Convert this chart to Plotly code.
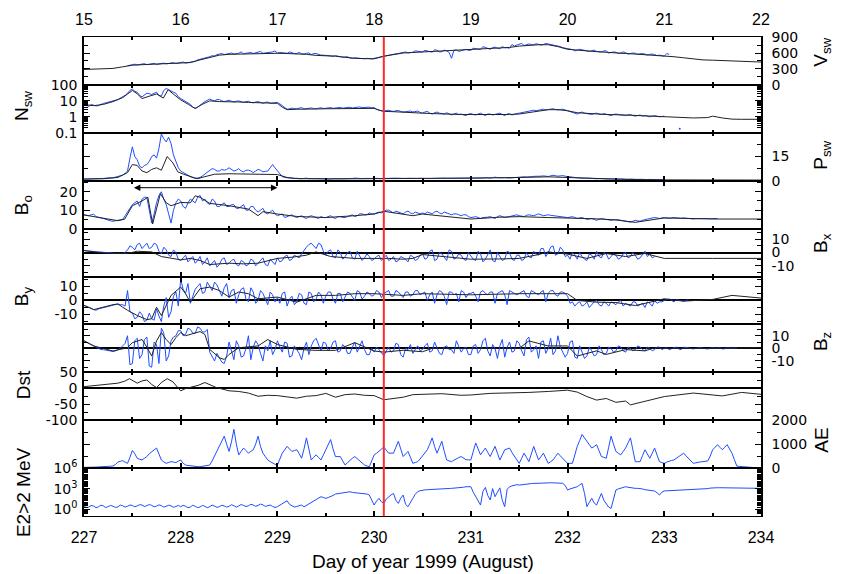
import plotly.graph_objects as go

# ---------------- data ----------------
top_ticks = [15, 16, 17, 18, 19, 20, 21, 22]            # day of August
bottom_ticks = [227, 228, 229, 230, 231, 232, 233, 234]  # day of year
red_day = 230.1
arrow_days = [227.5, 229.0]
OBS_START, OBS_STEP = 227.0, 0.05     # observed (blue) samples; "_mid" samples sit half a step later
MOD_START, MOD_STEP = 227.0, 0.1      # V model grid

# Solar wind speed
v_model = [290, 295, 300, 310, 340, 370, 380, 390, 395, 405,
           410, 420, 470, 520, 560, 575, 580, 585, 590, 590,
           595, 590, 585, 575, 555, 550, 540, 520, 500, 495,
           490, 540, 570, 600, 610, 620, 630, 635, 640, 650,
           660, 670, 680, 690, 705, 730, 745, 755, 755, 720,
           670, 650, 640, 625, 610, 600, 590, 580, 570, 560,
           550, 530, 510, 490, 470, 465, 460, 455, 450, 440,
           430]
v_obs = [None, None, None, None, None, None, None, None, None, 360,
         380, 375, 390, 380, 395, 385, 400, 395, 410, 400,
         420, 410, 430, 445, 480, 500, 530, 545, 580, 570,
         590, 580, 595, 585, 600, 590, 610, 595, 600, 620,
         600, 605, 595, 600, 590, 585, 595, 570, 590, 560,
         555, 545, 550, 530, 520, 505, 510, 500, 490, 495,
         500, 520, 545, 560, 575, 590, 610, 600, 615, 630,
         620, 640, 615, 650, 625, 640, 500, 660, 640, 670,
         650, 680, 665, 700, 670, 710, 680, 700, 690, 730,
         760, 740, 770, 755, 765, 760, 770, 750, 740, 700,
         680, 665, 650, 660, 640, 650, 630, 620, 640, 610,
         615, 600, 610, 590, 595, 585, 580, 575, 570, 560,
         540, 575]
v_mid = [None, None, None, None, None, None, None, None, None, 370,
         390, 380, 400, 385, 405, 390, 410, 400, 420, 410,
         430, 420, 440, 470, 490, 520, 550, 570, 590, 585,
         600, 590, 620, 595, 610, 600, 630, 600, 615, 640,
         610, 600, 620, 590, 610, 580, 600, 590, 575, 560,
         560, 540, 545, 520, 530, 500, 505, 495, 500, 490,
         510, 530, 555, 570, 585, 600, 620, 610, 640, 620,
         650, 630, 660, 620, 655, 610, 650, 630, 660, 650,
         690, 670, 720, 680, 700, 690, 720, 700, 760, 750,
         780, 755, 760, 775, 750, 780, 760, 740, 720, 690,
         670, 640, 670, 645, 630, 655, 620, 640, 600, 620,
         590, 620, 580, 600, 575, 590, 560, 580, 550, 545,
         590]

# Density
n_model_t = [227.0, 227.1, 227.2, 227.3, 227.4, 227.5, 227.55, 227.6, 227.68, 227.75,
             227.82, 227.87, 227.93, 228.0, 228.08, 228.15, 228.22, 228.3, 228.4, 228.5,
             228.6, 228.7, 228.8, 228.9, 229.0, 229.05, 229.1, 229.2, 229.3, 229.4,
             229.5, 229.6, 229.7, 229.8, 229.9, 230.0, 230.05, 230.1, 230.2, 230.3,
             230.4, 230.5, 230.6, 230.7, 230.8, 230.9, 231.0, 231.2, 231.4, 231.5,
             231.6, 231.7, 231.8, 231.9, 232.0, 232.1, 232.2, 232.4, 232.6, 232.8,
             233.0, 233.2, 233.3, 233.45, 233.5, 233.6, 233.7, 233.8, 234.0]
n_model = [5.8, 5.0, 6.0, 9, 16, 45, 28, 14, 20, 27,
           15, 50, 25, 11.5, 6, 3.3, 6, 10, 9, 9,
           8.5, 8, 7.5, 7, 7, 4, 2.8, 3, 3.2, 3.1,
           3.2, 3.3, 3.4, 3.5, 3.6, 3.4, 2.6, 2.2, 2.1, 1.9,
           1.9, 1.7, 1.6, 1.5, 1.45, 1.4, 1.4, 1.35, 1.4, 1.5,
           1.8, 2.4, 2.8, 2.8, 2.4, 1.8, 1.6, 1.4, 1.3, 1.15,
           1.1, 0.95, 0.85, 0.9, 1.1, 0.85, 0.72, 0.7, 0.7]
n_obs = [6, 4.5, 5.5, 5, 7, 8, 10, 12, 18, 30,
         55, 35, 18, 30, 25, 35, 20, 60, 40, 30,
         14, 9, 6, 3.5, 5, 9, 13, 10, 12, 9,
         11, 8.5, 10, 8, 9.5, 7.5, 9, 7, 8.5, 7.5,
         8, 5, 3, 3.5, 3.2, 3.8, 3.3, 3.6, 3.2, 3.7,
         3.4, 3.8, 3.5, 3.9, 3.6, 4, 3.7, 4.2, 3.9, 4,
         3.8, 2.6, 2.3, 2.6, 2.2, 2.5, 2.0, 2.2, 2.0, 2.3,
         1.7, 2.2, 1.5, 2.0, 1.6, 1.8, 1.3, 1.7, 1.5, 1.2,
         1.6, 1.3, 1.7, 1.2, 1.5, 1.4, 1.7, 1.2, 1.6, 1.5,
         1.7, 1.9, 2.2, 2.6, 2.5, 3.0, 2.9, 3.2, 2.7, 3.0,
         2.4, 2.0, 1.5, 2.0, 1.6, 1.4, 1.7, 1.4, 1.5, 1.2,
         1.5, 1.3, 1.2, 1.4, 1.1, 1.3, 1.2, 1.0, 1.2, 1.0,
         1.1]
n_mid = [5, 6, 4.8, 6, 7.5, 9, 11, 15, 22, 45,
         40, 22, 25, 28, 30, 22, 45, 50, 35, 18,
         11, 7, 4, 4, 7, 11, 11, 12, 10, 10,
         9.5, 9.5, 9, 9, 8, 8.5, 8, 8, 7, 7.5,
         6.5, 3.5, 3.2, 3.3, 3.5, 3.1, 3.4, 3.3, 3.5, 3.3,
         3.6, 3.4, 3.7, 3.5, 3.8, 3.6, 4, 3.8, 4.1, 3.7,
         3, 2.4, 2.5, 2.3, 2.4, 2.2, 2.1, 2.3, 2.1, 1.9,
         2.0, 1.7, 1.8, 1.7, 1.5, 1.6, 1.5, 1.4, 1.3, 1.5,
         1.4, 1.5, 1.4, 1.5, 1.3, 1.6, 1.4, 1.5, 1.3, 1.6,
         1.8, 2.0, 2.4, 2.4, 2.8, 2.7, 3.1, 2.9, 2.9, 2.7,
         2.2, 1.7, 1.8, 1.7, 1.5, 1.6, 1.5, 1.6, 1.3, 1.4,
         1.4, 1.2, 1.3, 1.2, 1.2, 1.1, 1.1, 1.1, 1.1, 1.05]
n_outlier_t = [233.16]
n_outlier = [0.18]

# Dynamic pressure
p_model_t = [227.0, 227.2, 227.35, 227.45, 227.5, 227.55, 227.6, 227.65, 227.7, 227.75,
             227.8, 227.86, 227.92, 227.97, 228.03, 228.1, 228.17, 228.25, 228.35, 228.5,
             228.7, 228.9, 229.0, 229.1, 229.2, 229.5, 230.0, 230.5, 231.0, 231.5,
             231.8, 232.0, 232.3, 232.6, 233.0, 233.5, 234.0]
p_model = [1.0, 1.2, 2.0, 5, 10, 9.5, 6, 5, 7, 8,
           6.5, 15, 11, 5.5, 4, 2.5, 1.2, 2.5, 4, 4.3,
           4.2, 4, 3.8, 2, 1.3, 1.1, 1.2, 1.4, 1.6, 2.0,
           2.4, 2.0, 1.2, 0.8, 0.5, 0.4, 0.4]
p_obs = [1.0, 1.3, 1.1, 1.5, 1.4, 2.0, 1.8, 2.5, 3.5, 6,
         21, 13, 8, 10, 15, 14, 29, 24, 23, 12,
         6, 4, 2.5, 1.5, 2, 4, 6.5, 7, 6, 6.5,
         8, 6, 7.5, 5.5, 6.5, 5, 7, 5.5, 6, 10,
         6, 2.5, 1.8, 1.3, 1.5, 1.2, 1.6, 1.1, 1.4, 1.2,
         1.3, 1.1, 1.5, 1.2, 1.3, 1.1, 1.6, 1.2, 1.4, 1.3,
         1.5, 1.2, 1.4, 1.3, 1.6, 1.4, 1.2, 1.5, 1.3, 1.4,
         1.6, 1.3, 1.5, 1.4, 1.8, 1.5, 1.6, 1.4, 1.7, 1.5,
         1.6, 1.8, 1.5, 1.9, 1.6, 2.2, 1.7, 1.9, 1.6, 2.0,
         2.0, 2.4, 2.2, 2.7, 2.5, 3.0, 2.6, 3.4, 2.8, 3.2,
         2.5, 2.2, 1.8, 1.5, 1.6, 1.3, 1.2, 1.4, 1.1, 1.0,
         0.9, 1.1, 0.8, 1.0, 0.7, 0.9, 0.6, 0.8, 0.6, 0.7,
         0.6]
p_mid = [1.1, 1.2, 1.3, 1.4, 1.7, 1.9, 2.2, 3, 4.5, 14,
         15, 9, 9.5, 12, 16, 20, 26, 27, 16, 8,
         5, 3, 2, 1.7, 3, 5, 7.5, 6, 7, 7,
         7, 6.5, 6, 6.5, 6, 6, 6.5, 5.8, 8, 8,
         4, 2, 1.5, 1.4, 1.3, 1.4, 1.3, 1.3, 1.3, 1.3,
         1.2, 1.3, 1.3, 1.2, 1.2, 1.4, 1.4, 1.3, 1.3, 1.4,
         1.3, 1.3, 1.3, 1.5, 1.5, 1.3, 1.4, 1.4, 1.3, 1.5,
         1.4, 1.4, 1.5, 1.6, 1.6, 1.5, 1.5, 1.6, 1.6, 1.5,
         1.7, 1.6, 1.7, 1.7, 1.9, 1.9, 1.8, 1.7, 1.8, 2.0,
         2.2, 2.3, 2.5, 2.6, 2.8, 2.8, 3.0, 3.1, 3.0, 2.8,
         2.4, 2.0, 1.6, 1.5, 1.4, 1.2, 1.3, 1.2, 1.0, 0.95,
         1.0, 0.9, 0.9, 0.8, 0.8, 0.7, 0.7, 0.7, 0.6, 0.6]

# |B|
b0_model_t = [227.0, 227.2, 227.35, 227.42, 227.5, 227.6, 227.66, 227.71, 227.79, 227.85,
              227.9, 228.0, 228.1, 228.15, 228.2, 228.3, 228.5, 228.7, 228.8, 228.85,
              229.0, 229.2, 229.5, 229.8, 230.0, 230.1, 230.4, 230.5, 230.8, 231.0,
              231.3, 231.5, 231.8, 232.0, 232.3, 232.5, 232.7, 233.0, 233.3, 233.5,
              234.0]
b0_model = [7.4, 5.8, 4.3, 5.1, 12.4, 15, 17, 2.5, 19, 14,
            12.4, 14.2, 14, 17.8, 17, 13.7, 12.4, 10.6, 7, 9.2,
            7.9, 6.6, 6, 7, 7.9, 9.4, 7, 7.9, 6.5, 5.2,
            6.2, 6.5, 6, 5.8, 5.3, 4.7, 3.4, 5.8, 5.5, 5.2,
            5.2]
b0_obs = [7.5, 7, 7.8, 6, 5.5, 4.5, 4, 4.2, 5, 9,
          13, 15, 16, 17, 3, 14, 20, 13, 3, 14,
          15, 11, 16, 14, 18, 16, 13, 15, 12, 14,
          12, 13, 11, 13, 10, 12, 9, 11, 8, 10,
          7, 8, 6.5, 7.5, 6, 7, 5.5, 7, 6, 6.5,
          6, 7, 5.5, 6.5, 6, 7, 6.5, 8, 7.5, 8.5,
          8, 9, 9.5, 10, 8.5, 9, 8, 9.5, 8, 8.5,
          8.5, 9, 8, 9.5, 8, 8.5, 7.5, 8, 7, 7.5,
          6, 6.5, 5.5, 6, 6.5, 5.5, 7, 6, 6.5, 7,
          7, 6.5, 7.5, 7, 8, 7, 7.5, 7, 6.5, 6,
          6, 6.5, 5.5, 6, 5, 5.5, 4.5, 5.5, 5, 4.5,
          5, 4.5, 4, 3.5, 4.5, 4, 5, 5.5, 6, 5.5,
          6, 5.5, 6, 5.5, 5.8, 5.5, 5.2, 5.5, 5.3, 5.5,
          5.3, 5.5]
b0_mid = [7.2, 7.5, 6.5, 5.8, 5, 4.2, 4.3, 4.6, 7, 11,
          14, 12, 17, 10, 8, 18, 16, 8, 10, 16,
          12, 14, 15, 17, 15, 14, 16, 12, 13, 12,
          13, 11, 12, 10, 12, 10, 10, 8.5, 9, 8,
          7.5, 6, 7, 6.5, 6.5, 6, 6.5, 6.5, 5.5, 6,
          6.5, 6, 6.5, 6, 6.5, 7.5, 7, 8, 7.5, 8,
          8.5, 8.5, 10, 9, 9.5, 8.5, 9, 8.5, 9, 8,
          8, 8.5, 9, 8.5, 9, 8, 8, 7.5, 7.5, 6.5,
          6.2, 6, 6, 6.2, 6, 6.5, 6.5, 6.2, 7, 7.5,
          6.8, 7.2, 7.2, 7.5, 7.5, 7.2, 7.2, 6.8, 6.2, 6.2,
          6.2, 6, 5.8, 5.5, 5.2, 5, 5, 5.2, 4.8, 4.8,
          4.8, 4.2, 3.8, 4, 4.2, 4.5, 5.2, 5.8, 5.8, 5.8,
          5.8, 5.8, 5.8, 5.6, 5.6, 5.4, 5.4, 5.4, 5.4, 5.4,
          5.4]

# Bx
bx_model_t = [227.0, 227.15, 227.3, 227.45, 227.55, 227.7, 227.8, 228.0, 228.1, 228.2,
              228.3, 228.5, 228.65, 228.8, 229.0, 229.15, 229.3, 229.4, 229.55, 229.7,
              229.8, 230.0, 230.15, 230.3, 230.4, 230.5, 230.7, 231.0, 231.3, 231.5,
              231.7, 231.8, 232.0, 232.2, 232.4, 232.6, 232.8, 233.0, 233.5, 234.0]
bx_model = [1.5, 0, -0.7, -0.7, 1.0, 0.5, -3, -5.5, -4.4, -6,
            -9, -8, -8.5, -8, -4.4, -3.5, -2, 0.5, -3, -3.5,
            -4.4, -4.4, -4.4, -5, -4.4, -1.5, -3, -5, -4.8, -4.4,
            -1.5, 0.5, -1.2, -4.4, -0.7, -3, -0.7, -4.4, -4.4, -4.4]
bx_obs = [1.5, 1.2, 0.8, 0.5, 0, -0.5, -0.7, -0.5, -0.8, 2,
          4, 6, 3, 7, 4, 6, -1, 2, -3, 0,
          -6, -2, -5, -8, -3, -7, -10, -6, -9, -4,
          -8, -5, -10, -7, -9, -6, -8, -4, -10, -7,
          -4, -6, -2, -5, -3, -1, 4, 7, 3, 6,
          -2, 2, -4, 0, -3, 1, -5, -2, -4, -3,
          -5, -2, -4, -6, -3, -6, -4, -7, -3, -5,
          -1, -4, 2, -5, -1, -6, 1, -4, -2, -6,
          -3, -6, -1, -5, 2, -7, -3, -5, 0, -6,
          -2, -5, -3, 1, -2, 3, 0, 5, -1, 2,
          -2, 0, -5, -3, -6, -2, 1, -4, -1, -3,
          -2, -4, 0, -3, -2, -4, 1, -1, -3]
bx_mid = [1.3, 1.0, 0.6, 0.2, -0.3, -0.6, -0.6, -0.7, 0, 5,
          2, 7, 5, 3, 7, 1, 4, -2, 2, -5,
          -4, -7, -3, -6, -9, -4, -8, -11, -5, -9,
          -6, -9, -6, -10, -5, -10, -6, -9, -5, -9,
          -7, -3, -6, -2, -4, 2, 6, 5, 7, 1,
          1, -3, 2, -5, 0, -4, 1, -6, -1, -6,
          -3, -6, -2, -5, -7, -3, -5, -2, -6, -2,
          -5, 1, -6, 0, -4, 2, -5, -1, -5, 0,
          -5, 1, -7, -2, -6, 0, -6, 1, -5, -2,
          -6, 0, -4, -1, 3, -3, 4, -2, 4, -3,
          -5, -2, 0, -5, -1, -5, -3, 0, -5, -1,
          -5, -1, -4, 0, -5, -1, -3, -4]

# By
by_model_t = [227.0, 227.1, 227.3, 227.35, 227.45, 227.55, 227.65, 227.7, 227.75, 227.8,
              227.9, 228.0, 228.05, 228.1, 228.2, 228.3, 228.4, 228.5, 228.6, 228.7,
              228.8, 229.0, 229.2, 229.4, 229.6, 229.8, 230.0, 230.3, 230.5, 231.0,
              231.5, 232.0, 232.1, 232.3, 232.5, 232.7, 232.9, 233.0, 233.2, 233.5,
              233.7, 234.0]
by_model = [-3.5, -6.5, -3, -2.5, -7, -10.7, -13.6, -13, -4.8, -10.7,
            3.6, 9.5, 4.8, -1.2, 8.3, 9.5, 7, 2.4, 6, 4.8,
            1.2, 2.4, -1.2, 3.6, 3.6, 4.8, 4.8, 3.6, 4.8, 4,
            4.8, 4.8, 0, -1.2, -1.5, -3.6, -0.5, 1.2, -0.5, 0.7,
            3.6, 1.7]
by_obs = [-3.5, -4.5, -6.5, -6, -5, -4, -3, -2.5, -3, 7,
          -9, -12, -10, -14, -13, -6, -15, 2, -8, 6,
          15, 5, -2, 8, 12, 6, 10, 13, 7, 9,
          2, 8, 4, 9, -1, 6, 0, 5, -3, 4,
          2, 5, -4, 3, -1, 4, -3, 5, 1, 4,
          3, 6, -2, 5, 2, 5, 0, 6, 3, 5,
          4, 6, 5, 7, 3, 6, 2, 6, 4, 7,
          5, 0, 6, 4, 6, -3, 6, 5, 7, 2,
          5, 3, 6, 5, 6, -2, 6, 4, 7, 5,
          5, 7, 2, 6, 4, 7, 5, 7, 3, 6,
          3, -1, -2, -4, -1, -3, 0, -4, -2, -1,
          -3, 0, -2, -4, -1, -3, -5, -2, 0, -1,
          0, 1, -1, 0, -0.5, 0.5]
by_mid = [-4, -5.5, -7, -5.5, -4.5, -3.5, -2.5, -3, -4, -8,
          -13, -8, -15, -9, -14, -11, -4, -12, 3, -4,
          8, 12, 3, 10, 5, 13, 7, 11, 3, 12,
          7, -2, 8, 1, 9, -2, 7, 1, 6, -1,
          -2, 6, 1, -3, 5, -2, 6, -1, 6, -2,
          6, 1, 5, -1, 6, 2, 7, 1, 6, 3,
          7, 2, 6, 3, 7, 4, 6, 3, 7, 4,
          6, 4, -2, 7, 3, 6, 4, -1, 6, 5,
          6, -1, 7, 4, 6, 5, 7, -3, 6, 4,
          6, 3, 7, 5, 6, -1, 7, 4, 6, 5,
          -2, -4, -1, -3, -5, -1, -3, -1, -4, -2,
          -1, -4, -3, -1, -4, -2, -1, -4, -2, -1,
          0.5, 0, 0.5, -0.5, 0]

# Bz
bz_model_t = [227.0, 227.1, 227.3, 227.45, 227.5, 227.6, 227.65, 227.7, 227.75, 227.8,
              227.85, 227.9, 227.95, 228.0, 228.05, 228.2, 228.25, 228.3, 228.4, 228.45,
              228.5, 228.6, 228.8, 228.9, 229.0, 229.2, 229.4, 229.6, 229.8, 230.0,
              230.1, 230.3, 230.5, 230.6, 231.0, 231.5, 231.6, 231.8, 232.0, 232.1,
              232.3, 232.4, 232.6, 232.8, 232.9, 233.0, 233.5, 234.0]
bz_model = [5.9, 1.9, -2.1, 0.5, 4.5, 7, 1, -6.1, 5.9, 12.5,
            7, 3, 8.5, 12.5, 10, 13.3, 11, -0.8, -7.5, -8.8,
            -4.8, 0.5, 1.9, 7, 3, -0.8, -1.6, -1.6, 4.5, -2.1,
            -3, -1.5, -2.7, 0, 0, 0, 5.9, 1.9, 1.9, -6.1,
            -2, -4.8, -1, -2, 0.5, 0, 0, 0.5]
bz_obs = [6, 4, 2, 0, -1, -2, -2.5, -1, 2, 10,
          -12, 8, -5, 9, -15, 3, 16, -10, 6, 10,
          14, 11, 15, 12, 16, 13, -3, -10, -7, -12,
          5, -9, 2, -6, 10, 1, 3, -10, -2, -5,
          6, -3, 4, -6, -1, -9, 5, 2, 8, -2,
          4, 0, 6, -2, 1, -4, 5, 2, -1, -5,
          -3, -1, -6, 1, -2, 3, -7, -1, -4, 2,
          -1, 4, -2, 0, -5, 2, -1, 6, -3, 1,
          -5, 3, -1, 8, -6, 0, 2, -7, 5, -2,
          4, -6, 9, -1, -8, 6, 0, -5, 10, -3,
          -4, 6, -8, -3, -6, -2, -5, -1, -4, 0,
          -2, 1, -3, 0, -1, 1, -2, 0, -1, 1,
          0, -1, 0.5, -0.5, 1, 0, -0.5, 0.5, 0, -0.5,
          0.5, 0, -0.5, 0.5, 0, 0.3]
bz_mid = [5, 3, 1, -1, -1.5, -2.5, -2, 0, 4, -13,
          6, -8, 7, -14, 5, -12, 12, -6, 9, 14,
          10, 16, 12, 17, 13, 15, -6, -4, -11, -6,
          -3, 6, -7, 0, -9, 6, -4, 2, 6, -1,
          1, 5, -7, 2, -4, 0, -5, 6, 3, 5,
          -2, 5, -3, 3, -4, 1, -3, 6, -5, 0,
          1, -4, -2, -3, 4, -5, 0, 3, -1, -2,
          2, -3, 5, -4, 1, -1, -4, 2, 0, -5,
          2, -4, 6, -2, 3, -8, 7, 1, -3, 6,
          -2, 7, -3, 2, 5, -4, 8, -2, 1, -7,
          5, -7, 2, -8, 1, -6, 2, -5, 1, -3,
          2, -2, 1, -2, 2, -1, 1, -2, 1, -1,
          0.5, -0.5, 1, -1, 0.5, -0.5, 0, 0.5, -0.5, 0,
          0, 0.5, -0.3, 0.2, 0.3]

# Dst
dst_t = [227.0, 227.2, 227.35, 227.42, 227.47, 227.55, 227.6, 227.65, 227.7, 227.75,
         227.8, 227.86, 227.92, 227.97, 228.0, 228.05, 228.1, 228.18, 228.25, 228.3,
         228.37, 228.5, 228.6, 228.7, 228.8, 228.9, 229.0, 229.1, 229.2, 229.3,
         229.4, 229.5, 229.6, 229.7, 229.8, 229.9, 230.0, 230.1, 230.2, 230.3,
         230.4, 230.5, 230.7, 230.9, 231.0, 231.2, 231.4, 231.6, 231.8, 232.0,
         232.1, 232.2, 232.3, 232.4, 232.5, 232.6, 232.65, 232.8, 233.0, 233.3,
         233.5, 233.6, 233.8, 234.0]
dst = [5, 12, 16, 22, 30, 16, 23, 26, 12, 2,
       18, 30, 20, 2, -8, -1, 3, 9, 18, 12,
       2, -8, -10, -15, -25, -22, -23, -27, -31, -25,
       -23, -16, -28, -20, -18, -22, -23, -36, -31, -28,
       -20, -19, -17, -22, -21, -16, -15, -13, -10, -6,
       -12, -26, -37, -32, -44, -40, -52, -40, -26, -15,
       -20, -24, -13, -19]

# AE
ae_obs = [28, 25, 35, 50, 45, 70, 85, 250, 312, 200,
          737, 411, 340, 482, 695, 837, 340, 200, 270, 230,
          340, 128, 90, 70, 57, 100, 128, 500, 907, 1333,
          695, 1617, 553, 837, 624, 766, 1333, 624, 340, 200,
          128, 624, 907, 695, 766, 411, 1262, 340, 553, 340,
          766, 1191, 482, 482, 128, 340, 482, 300, 128, 57,
          553, 695, 879, 624, 624, 1120, 482, 695, 200, 269,
          500, 766, 1262, 624, 1120, 340, 269, 400, 482, 350,
          340, 1049, 553, 837, 482, 907, 340, 766, 837, 482,
          199, 624, 269, 907, 340, 624, 199, 340, 624, 400,
          199, 199, 907, 1404, 1120, 837, 978, 482, 411, 1333,
          695, 553, 837, 1262, 269, 269, 766, 411, 837, 269,
          199, 300, 340, 500, 624, 400, 199, 250, 269, 300,
          766, 978, 766, 978, 624, 85, 57, 40, 28, 20,
          14]
ae_mid = [26, 30, 42, 48, 58, 78, 150, 280, 250, 450,
          600, 370, 410, 600, 760, 600, 260, 235, 250, 290,
          200, 110, 80, 62, 80, 115, 300, 700, 1100, 1000,
          1100, 1000, 700, 730, 700, 1000, 900, 480, 270, 160,
          400, 760, 800, 730, 600, 800, 800, 450, 450, 550,
          950, 800, 482, 300, 230, 410, 390, 200, 90, 300,
          620, 800, 750, 624, 870, 800, 590, 450, 235, 380,
          630, 1000, 900, 870, 700, 300, 330, 440, 420, 345,
          700, 800, 700, 650, 700, 620, 550, 800, 650, 340,
          410, 450, 590, 620, 480, 410, 270, 480, 510, 300,
          199, 550, 1150, 1260, 980, 900, 730, 450, 870, 1000,
          620, 700, 1050, 765, 269, 520, 590, 620, 550, 230,
          250, 320, 420, 560, 510, 300, 220, 260, 280, 500,
          870, 870, 870, 800, 350, 70, 48, 34, 24, 17]

# >2 MeV electron flux
e2_obs = [2.5, 2.0, 2.8, 2.2, 3.0, 2.4, 2.6, 2.1, 3.2, 2.7,
          3.5, 3.0, 4.0, 3.2, 3.6, 2.8, 3.3, 2.6, 3.0, 2.4,
          2.2, 2.7, 2.0, 2.5, 2.1, 2.6, 2.3, 2.8, 2.4, 3.0,
          2.6, 3.2, 2.9, 3.5, 3.1, 4.0, 3.5, 4.2, 3.2, 2.5,
          2.3, 7, 17, 3, 2.5, 4, 3.5, 10, 22, 66,
          38, 66, 162, 200, 250, 350, 250, 220, 200, 115,
          4, 38, 7, 66, 200, 7, 115, 2.3, 38, 350,
          630, 700, 800, 900, 1000, 1100, 1100, 1200, 1400, 1900,
          1900, 66, 4, 1500, 22, 66, 1300, 2.3, 1800, 3300,
          3300, 4500, 5800, 5800, 6500, 7200, 7200, 7000, 6800, 6000,
          630, 1100, 1900, 5800, 2.3, 38, 4, 200, 7, 1.3,
          630, 1100, 1900, 1350, 1100, 1100, 700, 630, 450, 115,
          450, 500, 550, 550, 600, 630, 700, 800, 900, 1000,
          1350, 1350, 1350, 1300, 1300, 1250, 1250, 1200, 1200, 1100,
          1100]
e2_mid = [1.8, 3.5, 1.6, 3.8, 1.7, 3.5, 1.8, 3.9, 2.0, 4.0,
          2.2, 4.5, 2.4, 4.8, 2.2, 4.2, 2.0, 3.8, 1.9, 3.6,
          3.6, 1.6, 3.8, 1.7, 3.5, 1.6, 3.9, 1.8, 3.7, 2.0,
          4.5, 2.0, 4.8, 2.4, 5.2, 2.6, 5.5, 2.5, 4.0, 1.8,
          4, 12, 5, 2, 3, 2.2, 6, 15, 40, 50,
          50, 100, 180, 230, 300, 280, 240, 210, 160, 20,
          15, 12, 30, 120, 20, 40, 5, 12, 150, 500,
          650, 750, 850, 950, 1050, 1050, 1150, 1300, 1600, 1900,
          300, 15, 400, 100, 1000, 300, 20, 800, 2500, 3800,
          3800, 5200, 5500, 6200, 6800, 7300, 7100, 6900, 6400, 3000,
          900, 1500, 3500, 200, 10, 8, 30, 20, 2, 50,
          900, 1500, 1600, 1200, 1100, 900, 650, 550, 250, 300,
          480, 520, 550, 580, 610, 650, 750, 850, 950, 1200,
          1350, 1350, 1320, 1300, 1280, 1250, 1220, 1200, 1150, 1100]


def grid(arr, start, step):
    return [round(start + step * k, 3) for k in range(len(arr))]


def interleave(obs, mid):
    """Observed samples on the 0.05-day grid with the extra samples half a step later."""
    t, v = [], []
    for k, val in enumerate(obs):
        t.append(round(OBS_START + OBS_STEP * k, 3))
        v.append(val)
        if k < len(mid):
            t.append(round(OBS_START + OBS_STEP * (k + 0.5), 3))
            v.append(mid[k])
    return t, v


# ---------------- figure ----------------
BLUE = '#1f4dff'
BLACK = '#222222'
fig = go.Figure()


def add(x, y, panel, color, width=1.0):
    ax = 'x' if panel == 1 else f'x{panel}'
    ay = 'y' if panel == 1 else f'y{panel}'
    fig.add_trace(go.Scatter(x=x, y=y, xaxis=ax, yaxis=ay, mode='lines',
                             line=dict(color=color, width=width),
                             connectgaps=False, showlegend=False, hoverinfo='skip'))


add(*interleave(v_obs, v_mid), 1, BLUE)
add(grid(v_model, MOD_START, MOD_STEP), v_model, 1, BLACK)
add(*interleave(n_obs, n_mid), 2, BLUE)
add(n_model_t, n_model, 2, BLACK)
fig.add_trace(go.Scatter(x=n_outlier_t, y=n_outlier, xaxis='x2', yaxis='y2', mode='markers',
                         marker=dict(color=BLUE, size=2), showlegend=False, hoverinfo='skip'))
add(*interleave(p_obs, p_mid), 3, BLUE)
add(p_model_t, p_model, 3, BLACK)
add(*interleave(b0_obs, b0_mid), 4, BLUE)
add(b0_model_t, b0_model, 4, BLACK)
add(*interleave(bx_obs, bx_mid), 5, BLUE)
add(bx_model_t, bx_model, 5, BLACK)
add(*interleave(by_obs, by_mid), 6, BLUE)
add(by_model_t, by_model, 6, BLACK)
add(*interleave(bz_obs, bz_mid), 7, BLUE)
add(bz_model_t, bz_model, 7, BLACK)
add(dst_t, dst, 8, BLACK)
add(*interleave(ae_obs, ae_mid), 9, BLUE)
add(*interleave(e2_obs, e2_mid), 10, BLUE)

# invisible trace for the top (day of August) axis
fig.add_trace(go.Scatter(x=[top_ticks[0], top_ticks[-1]], y=[450, 450], xaxis='x11', yaxis='y',
                         mode='markers', marker=dict(opacity=0), showlegend=False, hoverinfo='skip'))

# per panel: side, type, range, dtick (linear mode) or tickvals/ticktext, minor step
B_TV, B_TT = [-10, 0, 10], ['-10', '0', '10']
panels = [
    dict(side='right', type='linear', range=[0, 901], dtick=300, minor=150, zero=False),
    dict(side='left', type='log', range=[-1, 2], dtick=1, minor='D1', zero=False),
    dict(side='right', type='linear', range=[0, 29.7], dtick=15, minor=7.5, zero=False),
    dict(side='left', type='linear', range=[0, 26], dtick=10, minor=5, zero=False),
    dict(side='right', type='linear', range=[-18, 18], tv=B_TV, tt=B_TT, minor=5, zero=True),
    dict(side='left', type='linear', range=[-17, 17], tv=B_TV, tt=B_TT, minor=5, zero=True),
    dict(side='right', type='linear', range=[-19, 19], tv=B_TV, tt=B_TT, minor=5, zero=True),
    dict(side='left', type='linear', range=[-100, 50], tv=[-100, -50, 0, 50],
         tt=['-100', '-50', '0', '50'], minor=25, zero=True),
    dict(side='right', type='linear', range=[0, 2000], dtick=1000, minor=500, zero=False),
    dict(side='left', type='log', range=[-1, 6], tv=[1, 1e3, 1e6],
         tt=['10<sup>0</sup>', '10<sup>3</sup>', '10<sup>6</sup>'], minor='D1', zero=False),
]

XFONT = dict(family='Liberation Sans, Arial', size=16, color='black')
YFONT = dict(family='DejaVu Sans', size=14, color='black')
layout = {}
n = len(panels)
for i, pc in enumerate(panels):
    k = i + 1
    xn = 'xaxis' if k == 1 else f'xaxis{k}'
    yn = 'yaxis' if k == 1 else f'yaxis{k}'
    xs = 'x' if k == 1 else f'x{k}'
    ys = 'y' if k == 1 else f'y{k}'
    layout[xn] = dict(domain=[0, 1], anchor=ys, range=[bottom_ticks[0], bottom_ticks[-1]],
                      tickmode='linear', tick0=bottom_ticks[0], dtick=1, showticklabels=(k == n),
                      ticks='inside', ticklen=5, tickwidth=1.8, tickcolor='black',
                      showline=True, linecolor='black', linewidth=1, mirror='ticks',
                      showgrid=False, zeroline=False, tickfont=XFONT, ticklabelstandoff=7,
                      minor=dict(tick0=bottom_ticks[0], dtick=0.5, ticks='inside', ticklen=3,
                                 tickwidth=1.5, tickcolor='black'))
    ya = dict(domain=[1 - (i + 1) / n, 1 - i / n], anchor=xs, side=pc['side'],
              type=pc['type'], range=pc['range'],
              ticks='inside', ticklen=6, tickwidth=1.3, tickcolor='black',
              showline=True, linecolor='black', linewidth=1.5, mirror='ticks',
              showgrid=False, zeroline=pc['zero'], zerolinecolor='black', zerolinewidth=1.8,
              tickfont=YFONT, ticklabelstandoff=(6 if pc['side'] == 'right' else 2),
              separatethousands=False, exponentformat='none',
              minor=dict(tickmode='linear', tick0=0, dtick=pc['minor'], ticks='inside', ticklen=4,
                         tickwidth=1.1, tickcolor='black'))
    if 'tv' in pc:
        ya.update(tickmode='array', tickvals=pc['tv'], ticktext=pc['tt'])
    else:
        ya.update(tickmode='linear', tick0=0, dtick=pc['dtick'])
    layout[yn] = ya

layout['xaxis11'] = dict(overlaying='x', anchor='y', side='top', range=[top_ticks[0], top_ticks[-1]],
                         tickmode='linear', tick0=top_ticks[0], dtick=1, ticks='', showline=False,
                         showgrid=False, zeroline=False, tickfont=XFONT, ticklabelstandoff=8)

fig.update_layout(**layout)

# axis titles
TFONT = dict(family='Liberation Sans, Arial', size=19, color='black')
L, R = -0.090, 1.090
titles = [
    ('N<sub>sw</sub>', L, 0.856), ('B<sub>o</sub>', L, 0.649), ('B<sub>y</sub>', L, 0.459),
    ('Dst', L, 0.273), ('E2>2 MeV', L, 0.050),
    ('V<sub>sw</sub>', R, 0.969), ('P<sub>sw</sub>', R, 0.754), ('B<sub>x</sub>', R, 0.570),
    ('B<sub>z</sub>', R, 0.365), ('AE', R, 0.159),
]
annotations = []
for txt, xx, yy in titles:
    annotations.append(dict(text=txt, x=xx, y=yy, xref='paper', yref='paper', showarrow=False,
                            textangle=-90, font=TFONT, xanchor='center', yanchor='middle'))
annotations.append(dict(text='Day of year 1999 (August)', x=0.5, y=-0.096, xref='paper', yref='paper',
                        showarrow=False, font=dict(family='Liberation Sans, Arial', size=19, color='black'),
                        xanchor='center', yanchor='middle'))
# double-headed arrow in |B| panel
annotations.append(dict(x=arrow_days[1], y=22.2, ax=arrow_days[0], ay=22.2, xref='x4', yref='y4',
                        axref='x4', ayref='y4', text='', showarrow=True, arrowhead=2,
                        arrowside='end+start', arrowsize=1.3, arrowwidth=1, arrowcolor='black'))

fig.update_layout(
    width=841, height=574, autosize=False,
    margin=dict(l=84, r=80, t=37, b=58),
    paper_bgcolor='white', plot_bgcolor='white',
    annotations=annotations,
    shapes=[dict(type='line', xref='x10', yref='paper', x0=red_day, x1=red_day, y0=0, y1=1,
                 line=dict(color='#ff2a2a', width=2), layer='above')],
    showlegend=False,
)

fig.write_html('out.html')
